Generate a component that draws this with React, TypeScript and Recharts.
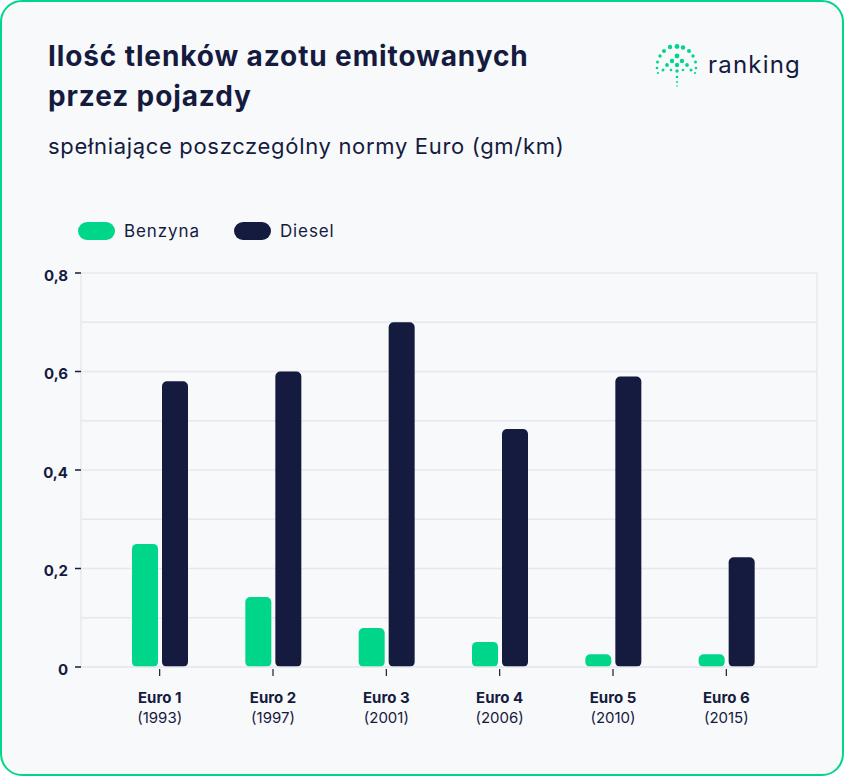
import React from "react";
import { BarChart, Bar, XAxis, YAxis, CartesianGrid } from "recharts";

const categories = ["Euro 1", "Euro 2", "Euro 3", "Euro 4", "Euro 5", "Euro 6"];
const years = ["(1993)", "(1997)", "(2001)", "(2006)", "(2010)", "(2015)"];
const benzyna = [0.25, 0.142, 0.079, 0.051, 0.026, 0.026];
const diesel = [0.58, 0.6, 0.7, 0.483, 0.59, 0.223];
const yTicks = [0, 0.1, 0.2, 0.3, 0.4, 0.5, 0.6, 0.7, 0.8];

const data = categories.map((c, i) => ({
  name: c,
  year: years[i],
  benzyna: benzyna[i],
  diesel: diesel[i],
}));

const GREEN = "#00d68a";
const NAVY = "#151b3e";
const GRID = "#e6e8ee";
const FONT = "Inter, 'Noto Sans', sans-serif";

const YTick = (props: any) => {
  const { x, y, payload } = props;
  const v = payload.value;
  if (Math.round(v * 10) % 2 !== 0) return null;
  const label = v === 0 ? "0" : v.toFixed(1).replace(".", ",");
  return (
    <g>
      <line x1={x + 2} x2={x + 8} y1={y} y2={y} stroke={NAVY} strokeWidth={1.5} />
      <text
        x={x - 5}
        y={y + 2}
        textAnchor="end"
        dominantBaseline="central"
        fontFamily={FONT}
        fontWeight={700}
        fontSize={15}
        fill={NAVY}
      >
        {label}
      </text>
    </g>
  );
};

const XTick = (props: any) => {
  const { x, y, payload, index } = props;
  return (
    <g>
      <line x1={x} x2={x} y1={y - 6} y2={y + 1} stroke={NAVY} strokeWidth={1.2} />
      <text
        x={x}
        y={y + 22}
        textAnchor="middle"
        dominantBaseline="central"
        fontFamily={FONT}
        fontWeight={700}
        fontSize={15}
        fill={NAVY}
      >
        {payload.value}
      </text>
      <text
        x={x}
        y={y + 42}
        textAnchor="middle"
        dominantBaseline="central"
        fontFamily={FONT}
        fontWeight={400}
        fontSize={15}
        fill={NAVY}
      >
        {years[index]}
      </text>
    </g>
  );
};

const Logo = () => {
  const dots: [number, number, number][] = [
    [670, 47, 2.2], [677, 46.5, 2.4], [683, 47.5, 2.2],
    [664, 51, 2], [689, 51, 2],
    [660, 56, 1.7], [693, 56, 1.7],
    [657.5, 62, 1.5], [695.5, 62, 1.5],
    [657, 68, 1.3], [696, 68, 1.3],
    [658, 73, 1.1], [695, 73, 1.1],
    [677, 56, 2.4],
    [672, 61, 2.2], [682, 61, 2.2],
    [667, 65, 1.9], [677, 65, 2.2], [687, 65, 1.9],
    [663, 70, 1.5], [691, 70, 1.5],
    [677, 71, 1.7],
    [677, 77, 1.3], [677, 82, 1], [677, 86, 0.8],
    [671, 70, 1.3], [683, 70, 1.3],
  ];
  return (
    <svg width={844} height={100} style={{ position: "absolute", left: 0, top: 0 }}>
      {dots.map((d, i) => (
        <circle key={i} cx={d[0]} cy={d[1]} r={d[2]} fill={GREEN} />
      ))}
      <text x={708} y={73} fontFamily={FONT} fontSize={24} letterSpacing={1.2} fill={NAVY}>
        ranking
      </text>
    </svg>
  );
};

export default function App() {
  return (
    <div
      style={{
        position: "absolute",
        left: 0,
        top: 0,
        width: 844,
        height: 776,
        fontFamily: FONT,
        color: NAVY,
      }}
    >
      <div
        style={{
          position: "absolute",
          left: 0,
          top: 0,
          width: 844,
          height: 776,
          boxSizing: "border-box",
          border: `2px solid ${GREEN}`,
          borderRadius: 22,
          background: "#f8f9fb",
        }}
      />
      <Logo />
      <div
        style={{
          position: "absolute",
          left: 48,
          top: 36,
          fontSize: 28,
          fontWeight: 700,
          lineHeight: "40px",
          letterSpacing: 0.88,
          whiteSpace: "nowrap",
        }}
      >
        Ilość tlenków azotu emitowanych
        <br />
        przez pojazdy
      </div>
      <div
        style={{
          position: "absolute",
          left: 48,
          top: 132,
          fontSize: 22,
          fontWeight: 400,
          lineHeight: "28px",
          letterSpacing: 0.68,
          whiteSpace: "nowrap",
        }}
      >
        spełniające poszczególny normy Euro (gm/km)
      </div>
      <div
        style={{
          position: "absolute",
          left: 78,
          top: 220,
          display: "flex",
          alignItems: "center",
          fontSize: 17,
          letterSpacing: 0.9,
          height: 22,
        }}
      >
        <span style={{ width: 37, height: 18, borderRadius: 9, background: GREEN, display: "inline-block" }} />
        <span style={{ marginLeft: 9, marginRight: 34 }}>Benzyna</span>
        <span style={{ width: 37, height: 18, borderRadius: 9, background: NAVY, display: "inline-block" }} />
        <span style={{ marginLeft: 9 }}>Diesel</span>
      </div>
      <div style={{ position: "absolute", left: 0, top: 250 }}>
        <BarChart
          width={844}
          height={500}
          data={data}
          margin={{ top: 23, right: 27, bottom: 23, left: 0 }}
          barSize={26}
          barGap={4}
        >
          <CartesianGrid stroke={GRID} strokeWidth={1.5} verticalPoints={[817]} />
          <XAxis
            dataKey="name"
            height={60}
            axisLine={{ stroke: GRID, strokeWidth: 1.5 }}
            tickLine={false}
            tick={<XTick />}
            padding={{ left: 22, right: 34 }}
            interval={0}
          />
          <YAxis
            width={81}
            domain={[0, 0.8]}
            ticks={yTicks}
            interval={0}
            axisLine={{ stroke: GRID, strokeWidth: 1.5 }}
            tickLine={false}
            tick={<YTick />}
          />
          <Bar dataKey="benzyna" fill={GREEN} radius={[5, 5, 5, 5]} isAnimationActive={false} />
          <Bar dataKey="diesel" fill={NAVY} radius={[5, 5, 5, 5]} isAnimationActive={false} />
        </BarChart>
      </div>
    </div>
  );
}
